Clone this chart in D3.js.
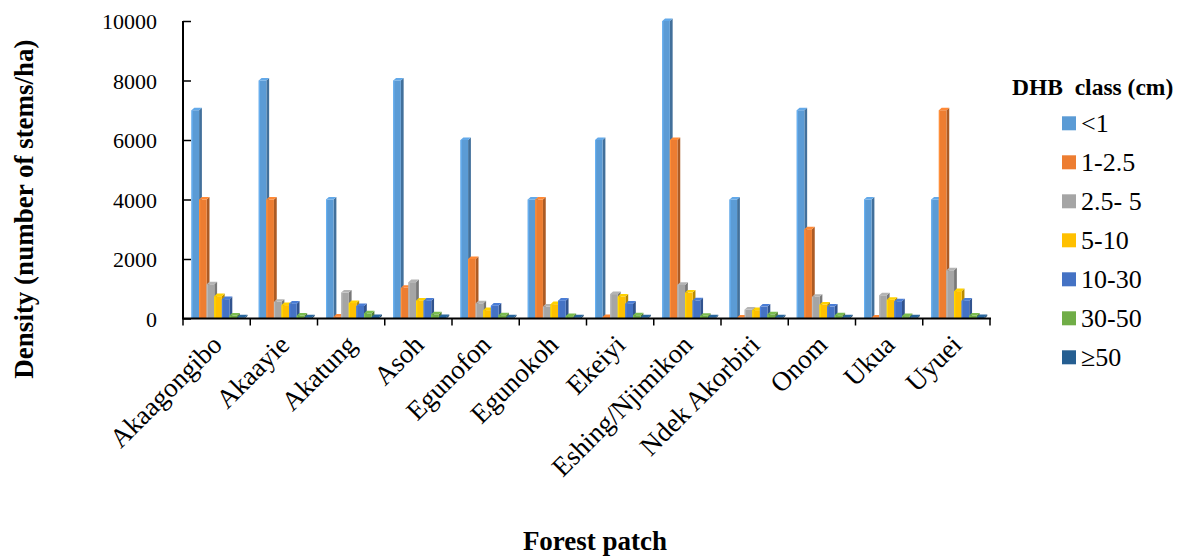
<!DOCTYPE html>
<html>
<head>
<meta charset="utf-8">
<script src="https://cdn.jsdelivr.net/npm/d3@7"></script>
<style>
  html, body { margin: 0; padding: 0; background: #fff; }
  svg { display: block; }
  svg text { font-family: "Liberation Serif", "Times New Roman", serif !important; fill: #000; }
</style>
</head>
<body>
<svg id="chart" width="1177" height="556"></svg>
<script>
const categories = ["Akaagongibo","Akaayie","Akatung","Asoh","Egunofon","Egunokoh","Ekeiyi","Eshing/Njimikon","Ndek Akorbiri","Onom","Ukua","Uyuei"];
const seriesNames = ["<1","1-2.5","2.5- 5","5-10","10-30","30-50","\u226550"];
const seriesColors = ["#5B9BD5","#ED7D31","#A5A5A5","#FFC000","#4472C4","#70AD47","#255E91"];
const lt1     = [7000, 8000, 4000, 8000, 6000, 4000, 6000, 10000, 4000, 7000, 4000, 4000];
const d1_2_5  = [4000, 4000,   60, 1030, 2000, 4000,   50,  6000,   30, 3000,   30, 7000];
const d2_5_5  = [1150,  560,  870, 1220,  510,  400,  820,  1130,  300,  730,  780, 1620];
const d5_10   = [ 750,  450,  520,  600,  280,  480,  740,   870,  280,  470,  630,  920];
const d10_30  = [ 650,  500,  420,  600,  430,  600,  500,   610,  400,  400,  580,  600];
const d30_50  = [ 100,  100,  170,  140,  110,   80,  110,    90,  140,  110,   80,  100];
const ge50    = [  40,   40,   50,   50,   40,   40,   40,    40,   40,   40,   40,   50];
const seriesValues = [lt1, d1_2_5, d2_5_5, d5_10, d10_30, d30_50, ge50];
const yTicks = [0, 2000, 4000, 6000, 8000, 10000];
const yTitle = "Density (number of stems/ha)";
const xTitle = "Forest patch";
const legendTitle = "DHB  class (cm)";

const svg = d3.select("#chart");
const plotLeft = 183, plotRight = 990, plotTop = 21, plotBottom = 318.5;

const x0 = d3.scaleBand().domain(categories).range([plotLeft, plotRight]).padding(0);
const x1 = d3.scaleBand().domain(seriesNames).range([8.5, 8.5 + 7 * 7.6]).padding(0);
const y = d3.scaleLinear().domain([0, 10000]).range([plotBottom, plotTop]);

const depthX = 2.8, depthY = 2.6;

// bars
const bars = svg.append("g");
categories.forEach((cat, ci) => {
  seriesNames.forEach((s, si) => {
    const v = seriesValues[si][ci];
    const x = x0(cat) + x1(s);
    const w = x1.bandwidth();
    const yt = y(v), yb = y(0);
    const base = d3.color(seriesColors[si]);
    const g = bars.append("g");
    g.append("polygon")
      .attr("points", [[x + w, yt], [x + w + depthX, yt - depthY], [x + w + depthX, yb - depthY], [x + w, yb]].map(p => p.join(",")).join(" "))
      .attr("fill", base.darker(0.9));
    g.append("rect").attr("x", x).attr("y", yt).attr("width", w).attr("height", yb - yt)
      .attr("fill", base.toString());
    g.append("rect").attr("x", x).attr("y", yt).attr("width", 1.2).attr("height", yb - yt)
      .attr("fill", base.brighter(0.35));
    g.append("polygon")
      .attr("points", [[x, yt], [x + depthX, yt - depthY], [x + w + depthX, yt - depthY], [x + w, yt]].map(p => p.join(",")).join(" "))
      .attr("fill", base.brighter(0.25));
  });
});

// y axis
const yAxis = svg.append("g").attr("transform", `translate(${plotLeft},0)`)
  .call(d3.axisLeft(y).tickValues(yTicks).tickFormat(d3.format("d")).tickSize(-8).tickPadding(26));
yAxis.attr("font-family", null).attr("font-size", null);
yAxis.select(".domain").attr("stroke", "#000").attr("stroke-width", 2).attr("d", `M0,${plotBottom}V${plotTop}`);
yAxis.selectAll(".tick line").attr("stroke", "#000").attr("stroke-width", 1.5);
yAxis.selectAll(".tick text").style("font-size", "22px").attr("dy", "0.35em");

// x axis
const xAxis = svg.append("g");
xAxis.append("line").attr("x1", plotLeft - 1).attr("x2", plotRight + 1).attr("y1", plotBottom).attr("y2", plotBottom)
  .attr("stroke", "#000").attr("stroke-width", 2);
const tickPos = categories.map(c => x0(c)).concat([x0(categories[categories.length - 1]) + x0.bandwidth()]);
xAxis.selectAll("line.tk").data(tickPos).enter().append("line").attr("class", "tk")
  .attr("x1", d => d).attr("x2", d => d).attr("y1", plotBottom).attr("y2", plotBottom + 7)
  .attr("stroke", "#000").attr("stroke-width", 1.5);
xAxis.selectAll("text.lbl").data(categories).enter().append("text").attr("class", "lbl")
  .attr("text-anchor", "end")
  .style("font-size", "27px")
  .attr("transform", d => `translate(${x0(d) + x0.bandwidth() / 2 + 7},${plotBottom + 28}) rotate(-45)`)
  .text(d => d);

// axis titles
svg.append("text").attr("text-anchor", "middle").style("font-weight", "bold").style("font-size", "27px")
  .attr("transform", `translate(33,209) rotate(-90)`).text(yTitle);
svg.append("text").attr("text-anchor", "middle").style("font-weight", "bold").style("font-size", "27px")
  .attr("x", 595).attr("y", 550).text(xTitle);

// legend
const legend = svg.append("g");
legend.append("text").attr("x", 1012).attr("y", 95).style("font-weight", "bold").style("font-size", "23.5px")
  .attr("xml:space", "preserve").style("white-space", "pre").text(legendTitle);
seriesNames.forEach((s, i) => {
  const cy = 123.3 + i * 39;
  legend.append("rect").attr("x", 1062).attr("y", cy - 7).attr("width", 14).attr("height", 14)
    .attr("fill", seriesColors[i]);
  legend.append("text").attr("x", 1081).attr("y", cy).attr("dy", "0.35em").style("font-size", "26px").text(s);
});
</script>
</body>
</html>
